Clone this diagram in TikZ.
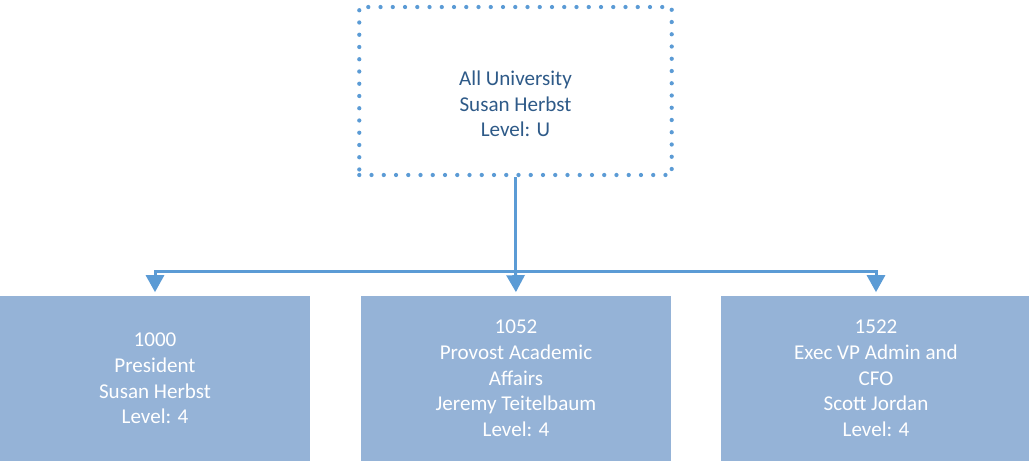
\documentclass[tikz,border=0pt]{standalone}
\usepackage{fontspec}
\setmainfont{Carlito}
\usetikzlibrary{arrows.meta}
\definecolor{boxblue}{HTML}{95B3D7}
\definecolor{linkblue}{HTML}{5B9BD5}
\definecolor{titleblue}{HTML}{2E5A88}
\begin{document}
\begin{tikzpicture}[x=0.02cm, y=-0.02cm,
  unit/.style={fill=boxblue, minimum width=6.2cm, minimum height=3.3cm,
    text=white, align=center, inner sep=0pt, font=\fontsize{12}{14.6}\selectfont},
  dotbox/.style={draw=linkblue, line width=0.085cm, line cap=round,
    dash pattern=on 0pt off 0.245cm, minimum width=6.25cm, minimum height=3.36cm, inner sep=0pt},
  link/.style={draw=linkblue, line width=0.06cm,
    -{Triangle[width=0.36cm,length=0.34cm]}, shorten >=0.07cm}]
  \useasboundingbox (0,0) rectangle (1029,461);
  % top of the tree
  \node[dotbox] (top) at (515.5,91) {};
  \node[text=titleblue, align=center, font=\fontsize{12}{14.6}\selectfont] (toptxt) at (515.5,104)
    {All University\\Susan Herbst\\Level: U};
  % units
  \node[unit] (pres) at (155,378.5) {1000\\President\\Susan Herbst\\Level: 4};
  \node[unit] (prov) at (516,378.5) {1052\\Provost Academic\\Affairs\\Jeremy Teitelbaum\\Level: 4};
  \node[unit] (cfo) at (876,378.5) {1522\\Exec VP Admin and\\CFO\\Scott Jordan\\Level: 4};
  % connectors
  \coordinate (bus) at (515.5,271);
  \draw[link] (top.south) -- (bus) -| (pres.north);
  \draw[link] (bus) -- (prov.north);
  \draw[link] (bus) -| (cfo.north);
\end{tikzpicture}
\end{document}
